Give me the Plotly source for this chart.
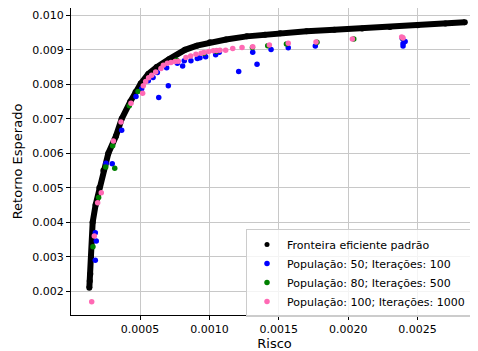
import plotly.graph_objects as go

# Efficient frontier
front_x = [0.000135, 0.000138, 0.000142, 0.000147, 0.000159, 0.000180, 0.000207, 0.000236,
           0.000272, 0.000327, 0.000368, 0.000430, 0.000468, 0.000505, 0.000560, 0.000620,
           0.000710, 0.000824, 0.000910, 0.001004, 0.001120, 0.001270, 0.001400, 0.001510,
           0.001700, 0.001900, 0.002100, 0.002300, 0.002500, 0.002700, 0.002840]
front_y = [0.00210, 0.00230, 0.00250, 0.00300, 0.00400, 0.00450, 0.00500, 0.00550,
           0.00600, 0.00650, 0.00700, 0.00750, 0.00778, 0.00802, 0.00830, 0.00850,
           0.00873, 0.00900, 0.00912, 0.00922, 0.00930, 0.00939, 0.00944, 0.00948,
           0.00954, 0.00958, 0.00962, 0.00966, 0.00971, 0.00976, 0.00980]

blue_x = [0.000178, 0.000185, 0.000178, 0.000255, 0.000300, 0.000368, 0.000471, 0.000512,
          0.000560, 0.000594, 0.000625, 0.000635, 0.000692, 0.000704, 0.000769, 0.000807,
          0.000819, 0.000867, 0.000913, 0.000932, 0.000973, 0.001045, 0.001071, 0.001211,
          0.001312, 0.001343, 0.001444, 0.001568, 0.001763, 0.002390, 0.002410, 0.002395,
          0.002395]
blue_y = [0.00290, 0.00346, 0.00370, 0.00571, 0.00570, 0.00667, 0.00765, 0.00787,
          0.00810, 0.00820, 0.00834, 0.00762, 0.00848, 0.00796, 0.00861, 0.00853,
          0.00868, 0.00868, 0.00875, 0.00877, 0.00880, 0.00886, 0.00893, 0.00837,
          0.00893, 0.00858, 0.00901, 0.00906, 0.00911, 0.00933, 0.00924, 0.00918,
          0.00911]

green_x = [0.000161, 0.000202, 0.000253, 0.000318, 0.000303, 0.000423, 0.000486, 0.000764,
           0.000960, 0.001050, 0.001310, 0.001420, 0.001555, 0.001775, 0.002040, 0.002390]
green_y = [0.00329, 0.00472, 0.00560, 0.00557, 0.00622, 0.00738, 0.00779, 0.00870,
           0.00890, 0.00896, 0.00907, 0.00912, 0.00917, 0.00922, 0.00931, 0.00935]

pink_x = [0.000152, 0.000171, 0.000195, 0.000221, 0.000308, 0.000363, 0.000435, 0.000519,
          0.000524, 0.000541, 0.000562, 0.000584, 0.000613, 0.000651, 0.000668, 0.000697,
          0.000723, 0.000752, 0.000776, 0.000831, 0.000865, 0.000903, 0.000940, 0.000961,
          0.000995, 0.001028, 0.001052, 0.001076, 0.001117, 0.001168, 0.001235, 0.001312,
          0.001432, 0.001568, 0.001768, 0.002030, 0.002385, 0.002395]
pink_y = [0.00170, 0.00360, 0.00457, 0.00486, 0.00636, 0.00691, 0.00745, 0.00774,
          0.00796, 0.00808, 0.00819, 0.00826, 0.00836, 0.00846, 0.00855, 0.00861,
          0.00863, 0.00866, 0.00867, 0.00878, 0.00882, 0.00887, 0.00890, 0.00892,
          0.00895, 0.00897, 0.00898, 0.00899, 0.00899, 0.00904, 0.00907, 0.00909,
          0.00914, 0.00919, 0.00923, 0.00931, 0.00937, 0.00934]

names = ["Fronteira eficiente padrão",
         "População: 50; Iterações: 100",
         "População: 80; Iterações: 500",
         "População: 100; Iterações: 1000"]

fig = go.Figure()
fig.add_trace(go.Scatter(x=front_x, y=front_y, mode="lines+markers",
                         line=dict(color="black", width=6),
                         marker=dict(color="black", size=6),
                         showlegend=False, legendgroup="f"))
fig.add_trace(go.Scatter(x=[None], y=[None], mode="markers", name=names[0],
                         marker=dict(color="black", size=5), legendgroup="f"))
fig.add_trace(go.Scatter(x=blue_x, y=blue_y, mode="markers", name=names[1],
                         marker=dict(color="#0000ff", size=5.5)))
fig.add_trace(go.Scatter(x=green_x, y=green_y, mode="markers", name=names[2],
                         marker=dict(color="#008000", size=5.5)))
fig.add_trace(go.Scatter(x=pink_x, y=pink_y, mode="markers", name=names[3],
                         marker=dict(color="#ff69b4", size=5.5)))

# page body has an 8px margin, so the figure is shrunk by 8px on each axis
fig.update_layout(
    width=470, height=343,
    margin=dict(l=63, r=0, t=0, b=36, autoexpand=False),
    paper_bgcolor="white", plot_bgcolor="white",
    font=dict(family="DejaVu Sans", size=11, color="black"),
    legend=dict(x=0.43, y=0.28, xanchor="left", yanchor="top",
                bgcolor="rgba(255,255,255,0.8)", bordercolor="#cccccc", borderwidth=1,
                font=dict(size=11), tracegroupgap=0),
)
fig.update_xaxes(range=[0.0000029, 0.002935], tick0=0, dtick=0.0005, tickformat=".4f",
                 showgrid=True, gridcolor="#c8c8c8", gridwidth=1,
                 showline=True, linecolor="black", linewidth=1, mirror=True,
                 ticks="outside", ticklen=4, tickcolor="black", zeroline=False,
                 title=dict(text="Risco", standoff=4), automargin=False)
fig.update_yaxes(range=[0.001313, 0.010212], tick0=0, dtick=0.001, tickformat=".3f",
                 showgrid=True, gridcolor="#c8c8c8", gridwidth=1,
                 showline=True, linecolor="black", linewidth=1,
                 ticks="outside", ticklen=4, tickcolor="black", zeroline=False,
                 title=dict(text="Retorno Esperado", standoff=6), automargin=False)

fig.write_html("out.html")
